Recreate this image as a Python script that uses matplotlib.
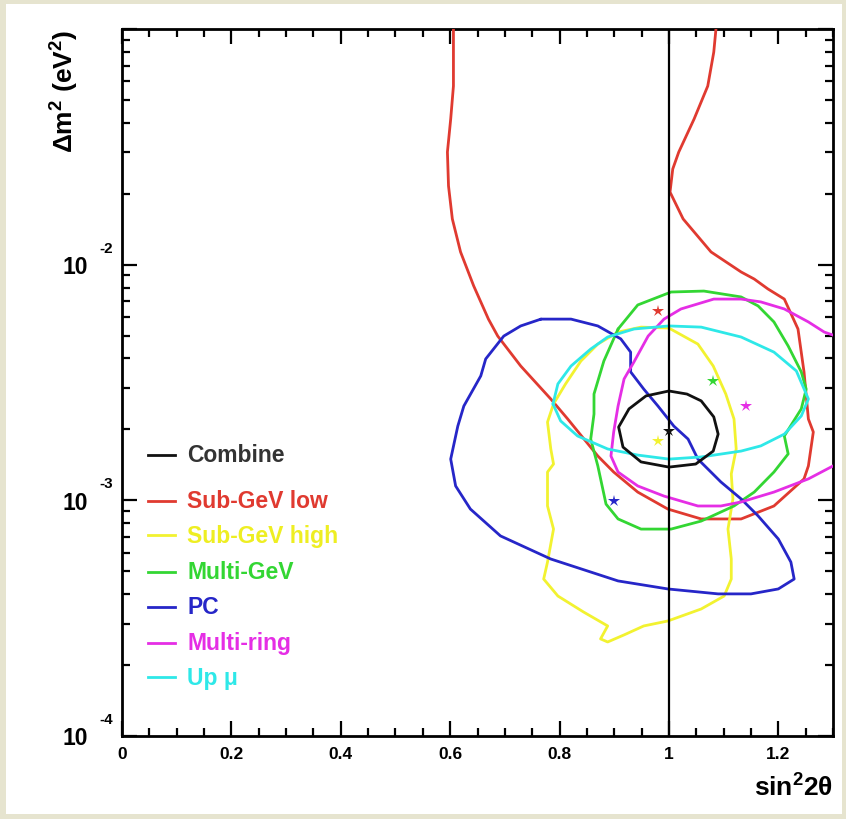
import matplotlib
matplotlib.use("Agg")
import matplotlib.pyplot as plt
import numpy as np
from matplotlib.patches import Rectangle
from matplotlib.ticker import FixedLocator, LogLocator, NullFormatter, MultipleLocator

plt.rcParams['font.family'] = ['Liberation Sans', 'DejaVu Sans']
plt.rcParams['mathtext.fontset'] = 'custom'
plt.rcParams['mathtext.rm'] = 'Liberation Sans:bold'
plt.rcParams['mathtext.it'] = 'Liberation Sans:bold'
plt.rcParams['mathtext.bf'] = 'Liberation Sans:bold'

# ---- contours: sin^2(2theta) and log10(dm^2 / eV^2) ----
combine_x = [1.000, 1.033, 1.059, 1.082, 1.090, 1.081, 1.049, 1.000, 0.949, 0.916, 0.908, 0.927, 0.958, 1.000]
combine_lg = [-2.536, -2.549, -2.578, -2.646, -2.719, -2.791, -2.846, -2.859, -2.837, -2.774, -2.689, -2.612, -2.557, -2.536]

sub_low_x = [0.606, 0.606, 0.601, 0.595, 0.597, 0.604, 0.619, 0.643, 0.670, 0.687, 0.729, 0.784, 0.815, 0.870,
             0.899, 0.943, 0.998, 1.059, 1.132, 1.192, 1.247, 1.255, 1.264, 1.255, 1.247, 1.236, 1.211, 1.181,
             1.156, 1.132, 1.077, 1.026, 1.002, 1.007, 1.018, 1.046, 1.071, 1.082, 1.086]
sub_low_lg = [-1.000, -1.242, -1.382, -1.522, -1.666, -1.806, -1.946, -2.090, -2.231, -2.303, -2.430, -2.570, -2.655, -2.812,
              -2.880, -2.965, -3.037, -3.079, -3.079, -3.024, -2.909, -2.854, -2.710, -2.655, -2.455, -2.273, -2.146, -2.103,
              -2.061, -2.031, -1.946, -1.806, -1.692, -1.594, -1.522, -1.382, -1.242, -1.098, -1.000]

sub_high_x = [0.907, 0.949, 1.000, 1.053, 1.081, 1.104, 1.119, 1.123, 1.114, 1.117, 1.108, 1.114, 1.114, 1.101,
              1.059, 0.998, 0.954, 0.918, 0.888, 0.875, 0.888, 0.844, 0.797, 0.771, 0.778, 0.789, 0.778, 0.778,
              0.789, 0.784, 0.778, 0.789, 0.811, 0.839, 0.870, 0.907]
sub_high_lg = [-2.286, -2.265, -2.269, -2.337, -2.430, -2.549, -2.655, -2.782, -2.888, -2.994, -3.122, -3.249, -3.334, -3.406,
               -3.461, -3.512, -3.533, -3.571, -3.601, -3.588, -3.533, -3.474, -3.406, -3.334, -3.262, -3.122, -3.024, -2.880,
               -2.846, -2.782, -2.668, -2.591, -2.506, -2.409, -2.337, -2.286]

multi_gev_x = [0.907, 0.943, 1.004, 1.064, 1.132, 1.163, 1.192, 1.218, 1.242, 1.251, 1.242, 1.211, 1.218, 1.192,
               1.156, 1.119, 1.059, 1.004, 0.949, 0.907, 0.885, 0.870, 0.857, 0.863, 0.863, 0.881, 0.907]
multi_gev_lg = [-2.273, -2.171, -2.116, -2.112, -2.137, -2.175, -2.243, -2.345, -2.455, -2.528, -2.612, -2.727, -2.803, -2.880,
                -2.965, -3.024, -3.088, -3.122, -3.122, -3.079, -3.016, -2.854, -2.740, -2.634, -2.549, -2.409, -2.273]

pc_x = [0.766, 0.821, 0.870, 0.912, 0.930, 0.930, 0.954, 0.980, 1.009, 1.035, 1.053, 1.095, 1.132, 1.163, 1.200,
        1.223, 1.229, 1.200, 1.150, 1.090, 0.998, 0.907, 0.784, 0.692, 0.637, 0.610, 0.601, 0.614, 0.625, 0.656,
        0.665, 0.698, 0.729, 0.766]
pc_lg = [-2.231, -2.231, -2.260, -2.315, -2.371, -2.455, -2.528, -2.600, -2.685, -2.740, -2.825, -2.922, -2.994, -3.066, -3.164,
         -3.262, -3.334, -3.376, -3.397, -3.397, -3.376, -3.342, -3.249, -3.151, -3.037, -2.939, -2.825, -2.685, -2.600, -2.472,
         -2.400, -2.303, -2.260, -2.231]

multi_ring_x = [1.310, 1.284, 1.255, 1.211, 1.168, 1.132, 1.082, 1.022, 0.991, 0.962, 0.936, 0.918, 0.907, 0.899,
                0.894, 0.907, 0.943, 0.991, 1.053, 1.095, 1.132, 1.192, 1.255, 1.310]
multi_ring_lg = [-2.307, -2.286, -2.243, -2.188, -2.158, -2.146, -2.146, -2.188, -2.231, -2.303, -2.413, -2.485, -2.600, -2.710,
                 -2.812, -2.880, -2.939, -2.982, -3.024, -3.024, -3.007, -2.965, -2.909, -2.842]

up_mu_x = [0.788, 0.797, 0.821, 0.857, 0.888, 0.936, 1.000, 1.059, 1.132, 1.192, 1.233, 1.255, 1.242, 1.211, 1.168,
           1.132, 1.059, 1.000, 0.943, 0.888, 0.833, 0.802, 0.788]
up_mu_lg = [-2.591, -2.506, -2.430, -2.358, -2.307, -2.273, -2.260, -2.265, -2.307, -2.371, -2.451, -2.570, -2.642, -2.719, -2.769,
            -2.791, -2.816, -2.825, -2.808, -2.782, -2.727, -2.663, -2.591]

# best-fit points
best_x = {"Combine": 1.000, "Sub-GeV low": 0.980, "Sub-GeV high": 0.980, "Multi-GeV": 1.081,
          "PC": 0.899, "Multi-ring": 1.141}
best_lg = {"Combine": -2.706, "Sub-GeV low": -2.197, "Sub-GeV high": -2.748, "Multi-GeV": -2.494,
           "PC": -3.003, "Multi-ring": -2.600}

labels = ["Combine", "Sub-GeV low", "Sub-GeV high", "Multi-GeV", "PC", "Multi-ring", "Up \u03bc"]
colors = ["#111111", "#e03a30", "#f2f230", "#33d633", "#2626c8", "#e52ee5", "#2ee8e8"]
text_colors = ["#333333", "#e03a30", "#eeee22", "#33d633", "#2626c8", "#e52ee5", "#2ee8e8"]
curves = [(combine_x, combine_lg), (sub_low_x, sub_low_lg), (sub_high_x, sub_high_lg),
          (multi_gev_x, multi_gev_lg), (pc_x, pc_lg), (multi_ring_x, multi_ring_lg), (up_mu_x, up_mu_lg)]

xtick_vals = [0, 0.2, 0.4, 0.6, 0.8, 1.0, 1.2]
xtick_labels = ["0", "0.2", "0.4", "0.6", "0.8", "1", "1.2"]
ydecades = [-4, -3, -2]

fig = plt.figure(figsize=(8.46, 8.20), dpi=100)
fig.patch.set_facecolor("#e6e4cf")
# white card behind the plot
bg = fig.add_axes([0, 0, 1, 1], zorder=-5)
bg.set_axis_off()
bg.add_patch(Rectangle((6 / 846, 5 / 820), 836 / 846, 810 / 820, transform=bg.transAxes,
                       facecolor="white", edgecolor="none"))

ax = fig.add_axes([122 / 846, 1 - 737 / 820, 711 / 846, 707 / 820])
ax.set_facecolor("white")

# draw contours, Combine last so it sits on top
order = [1, 2, 3, 4, 5, 6, 0]
for i in order:
    cx, clg = curves[i]
    ax.plot(cx, 10 ** np.array(clg), color=colors[i], lw=2.0, zorder=3 if i else 4,
            solid_joinstyle="round", solid_capstyle="round")

ax.axvline(1.0, color="black", lw=1.6, zorder=5)

for i, name in enumerate(labels[:-1]):
    ax.plot(best_x[name], 10 ** best_lg[name], marker="*", ms=9, color=colors[i],
            markeredgewidth=0, zorder=6)

ax.set_yscale("log")
ax.set_xlim(0, 1.3)
ax.set_ylim(1e-4, 1e-1)

for s in ax.spines.values():
    s.set_linewidth(2.0)

ax.set_xticks(xtick_vals)
ax.set_xticklabels(xtick_labels, fontsize=12.5, fontweight="bold")
ax.xaxis.set_minor_locator(MultipleLocator(0.05))
ax.yaxis.set_major_locator(FixedLocator([1e-4, 1e-3, 1e-2, 1e-1]))
ax.yaxis.set_minor_locator(LogLocator(base=10, subs=np.arange(2, 10)))
ax.yaxis.set_major_formatter(NullFormatter())
ax.yaxis.set_minor_formatter(NullFormatter())
ax.tick_params(which="both", direction="in", top=True, right=True, width=1.6)
ax.tick_params(which="major", length=11)
ax.tick_params(which="minor", length=6)
ax.tick_params(axis="x", pad=7)

for d in ydecades:
    ax.annotate("10", xy=(0, 10.0 ** d), xycoords=("axes fraction", "data"), xytext=(-34, -2),
                textcoords="offset pixels", ha="right", va="center", fontsize=16.5, fontweight="bold")
    ax.annotate(str(d), xy=(0, 10.0 ** d), xycoords=("axes fraction", "data"), xytext=(-23, 17),
                textcoords="offset pixels", ha="left", va="center", fontsize=11, fontweight="bold")

ax.text(1.0, -0.072, r"$\mathrm{sin}^{2}\mathrm{2}\theta$", transform=ax.transAxes,
        ha="right", va="center", fontsize=19)
ax.text(-0.080, 1.0, r"$\Delta\mathrm{m}^{2}\ \mathrm{(eV}^{2}\mathrm{)}$", transform=ax.transAxes,
        ha="center", va="top", rotation=90, fontsize=19)

# legend, hand placed like the original
leg_y = [0.398, 0.333, 0.284, 0.232, 0.183, 0.132, 0.083]
for i, name in enumerate(labels):
    ax.plot([0.037, 0.075], [leg_y[i], leg_y[i]], color=colors[i], lw=2.0, transform=ax.transAxes,
            clip_on=False, zorder=7)
    ax.text(0.092, leg_y[i], name, transform=ax.transAxes, ha="left", va="center",
            fontsize=16.5, fontweight="bold", color=text_colors[i], zorder=7)

fig.savefig("out.png", dpi=100, facecolor=fig.get_facecolor())
